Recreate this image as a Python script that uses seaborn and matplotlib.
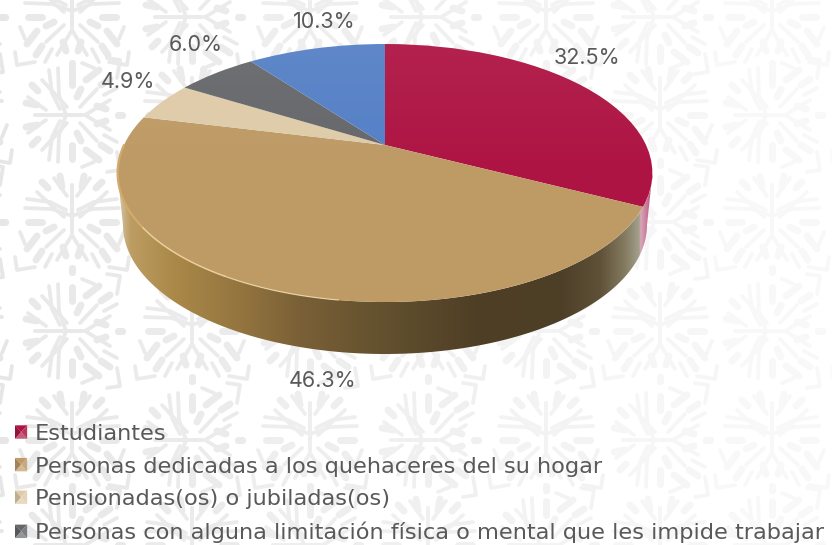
import numpy as np
import seaborn as sns
import matplotlib.pyplot as plt
import matplotlib.transforms as mtransforms
from matplotlib.colors import LinearSegmentedColormap, to_rgb
from matplotlib.legend_handler import HandlerPatch
from matplotlib.patches import Patch, Polygon

# Data
values = [32.5, 46.3, 4.9, 6.0, 10.3]
value_labels = ["32.5%", "46.3%", "4.9%", "6.0%", "10.3%"]
legend_labels = [
    "Estudiantes",
    "Personas dedicadas a los quehaceres del su hogar",
    "Pensionadas(os) o jubiladas(os)",
    "Personas con alguna limitación física o mental que les impide trabajar",
]
slice_colors = ["#ae1443", "#be9a65", "#dfcba8", "#66676b", "#5580c6"]
label_xy = [(587, 58), (323, 381), (128, 82), (196, 45), (324, 22)]

sns.set_theme(style="white")
plt.rcParams["font.family"] = ["Inter", "DejaVu Sans"]
palette = sns.color_palette(slice_colors)

W, H = 832, 545
fig = plt.figure(figsize=(W / 100, H / 100), dpi=100)
ax = fig.add_axes([0, 0, 1, 1])


# unit disc seen in perspective, in pixel coords of the picture
class DiscView(mtransforms.Transform):
    input_dims = 2
    output_dims = 2

    def transform_non_affine(self, xy):
        xy = np.asarray(xy, dtype=float)
        w = 1 + 0.217 * xy[:, 1]
        return np.column_stack([385 + 261 * xy[:, 0] / w, 145 - 122.9 * xy[:, 1] / w])


view = DiscView()

wedges, _ = ax.pie(values, colors=palette, startangle=90, counterclock=False,
                   wedgeprops={"linewidth": 0})
for w in wedges:
    w.set_transform(view + ax.transData)
    w.set_zorder(5)


# background motif, one half of it, mirrored left/right
branches = [
    [(0, -37), (0, 10)],
    [(-47, -14), (-20, -13), (0, -6)],
    [(-45, -23), (-22, -20), (-6, -12)],
    [(-35, -30), (-8, -5)],
    [(-18, -44), (-5, -26)],
    [(0, 13), (-15, 38)],
    [(-37, 45), (-55, 48), (-57, 35)],
    [(-8, 8), (-26, 25)],
    [(-27, 45), (-20, 32)],
    [(-52, 10), (-47, 22)],
]
leaves = [
    [(-44, 0), (-30, 0)],
    [(-26, 9), (-18, 5)],
    [(-45, 27), (-35, 14)],
    [(-36, 38), (-30, 29)],
    [(0, 46), (0, 50)],
    [(-12, -46), (-10, -35)],
    [(-30, -40), (-24, -34)],
    [(-9, 25), (-6, 34)],
]


def draw_motif(cx, cy, turned):
    shade = (231 + 0.022 * cx) / 255
    col = (shade, shade, shade)
    for group, lw in ((branches, 2.7), (leaves, 5.0)):
        for stroke in group:
            for sign in (1, -1):
                p = np.array(stroke, dtype=float)
                p[:, 0] *= sign
                if turned:
                    p = np.column_stack([p[:, 1], -p[:, 0]])
                ax.plot(cx + p[:, 0], cy + p[:, 1], color=col, lw=lw,
                        solid_capstyle="round", zorder=1)


col_x = [-45, 72, 192, 310, 428, 546, 660, 772, 888]
row_y = [17, 115, 222, 331, 440, 545]
for i, cx in enumerate(col_x):
    for j, cy in enumerate(row_y):
        draw_motif(cx, cy, (i + j) % 2 == 0)

# side wall of the disc, shaded by an image clipped to its outline
t = np.radians(np.linspace(0, 180, 181))
top_edge = np.column_stack([385 + 267.5 * np.cos(t), 173 + 129 * np.sin(t)])
low_edge = np.column_stack([385 + 262 * np.cos(t), 225 + 129 * np.sin(t)])
wall = Polygon(np.vstack([top_edge, low_edge[::-1]]), closed=True,
               transform=ax.transData, facecolor="none", edgecolor="none")
ax.add_patch(wall)
stops = [
    (118, "#d6c6a6"), (130, "#bd9d63"), (175, "#a98848"), (240, "#94753f"),
    (300, "#7a6037"), (385, "#62502e"), (480, "#4e3e25"), (560, "#4d3f27"),
    (600, "#5f5038"), (625, "#837a60"), (640, "#a3a08c"), (641, "#d9a9bb"),
    (647, "#c77c99"), (655, "#b52a5c"),
]
wall_cmap = LinearSegmentedColormap.from_list(
    "wall", [((x - 118) / (655 - 118), c) for x, c in stops], N=512)
im = ax.imshow(np.linspace(0, 1, 512)[None, :], cmap=wall_cmap, aspect="auto",
               extent=(118, 655, 360, 170), zorder=3)
im.set_clip_path(wall)

# faint sheen on the far part of the top face
a = np.radians(np.linspace(0, 360, 361))
disc = Polygon(view.transform(np.column_stack([np.cos(a), np.sin(a)])), closed=True,
               transform=ax.transData, facecolor="none", edgecolor="none")
ax.add_patch(disc)
sheen = np.ones((64, 1, 4))
sheen[:, 0, 3] = np.linspace(0.06, 0, 64)
im2 = ax.imshow(sheen, aspect="auto", extent=(118, 653, 180, 44), zorder=5.5)
im2.set_clip_path(disc)

# light rim on the front edge of the top face
arc = np.radians(np.linspace(180, 216, 40))
rim = view.transform(np.column_stack([np.cos(arc), np.sin(arc)]))
ax.plot(rim[:, 0], rim[:, 1], color="#d2aa6c", lw=1.6, zorder=6)
arc = np.radians(np.linspace(216, 240, 40))
rim = view.transform(np.column_stack([np.cos(arc), np.sin(arc)]))
ax.plot(rim[:, 0], rim[:, 1], color="#e8cf9c", lw=1.1, zorder=6)
arc = np.radians(np.linspace(240, 262, 40))
rim = view.transform(np.column_stack([np.cos(arc), np.sin(arc)]))
ax.plot(rim[:, 0], rim[:, 1], color="#f0dcb0", lw=0.9, alpha=0.8, zorder=6)

for (x, y), txt in zip(label_xy, value_labels):
    ax.text(x, y, txt, ha="center", va="center", fontsize=15.5, color="#595959", zorder=8)


# square legend key with four bevel faces
class BevelKey(HandlerPatch):
    def create_artists(self, legend, orig, xdescent, ydescent, width, height, fontsize, trans):
        base = np.array(to_rgb(orig.get_facecolor()))
        x0, y0 = -xdescent, -ydescent
        x1, y1 = x0 + width, y0 + height
        mid = ((x0 + x1) / 2, (y0 + y1) / 2)
        light = base + (1 - base) * 0.3
        faces = [
            ([(x0, y0), (x1, y0), mid], light),
            ([(x0, y1), (x1, y1), mid], base),
            ([(x0, y0), (x0, y1), mid], base * 0.85),
            ([(x1, y0), (x1, y1), mid], base + (1 - base) * 0.15),
        ]
        return [Polygon(p, closed=True, facecolor=c, edgecolor="none", transform=trans)
                for p, c in faces]


handles = [Patch(facecolor=c) for c in slice_colors[:4]]
ax.legend(handles, legend_labels, handler_map={Patch: BevelKey()}, loc="upper left",
          bbox_to_anchor=(15, 424), bbox_transform=ax.transData, frameon=False,
          prop={"family": "DejaVu Sans", "size": 16.2}, labelcolor="#595959",
          borderpad=0, borderaxespad=0, handlelength=0.54, handleheight=0.54,
          handletextpad=0.35, labelspacing=0.56)

ax.set_aspect("auto")
ax.set_xlim(0, W)
ax.set_ylim(H, 0)
ax.axis("off")
fig.savefig("out.png", dpi=100, facecolor="white")
